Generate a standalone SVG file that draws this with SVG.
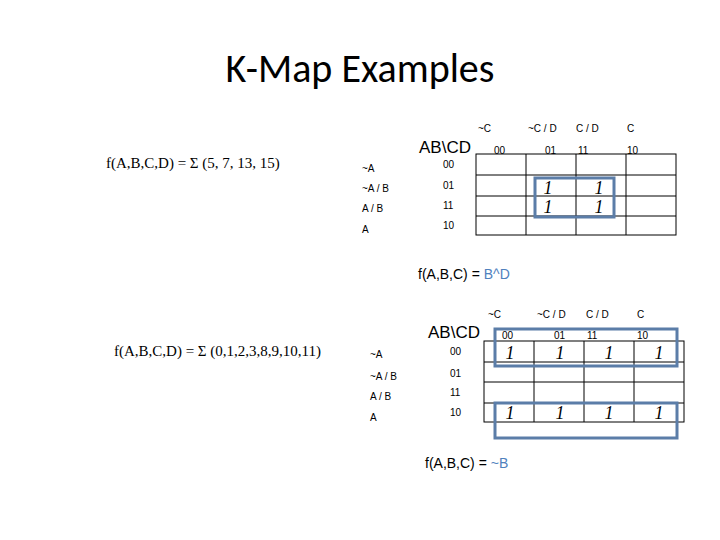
<svg xmlns="http://www.w3.org/2000/svg" width="720" height="540" viewBox="0 0 720 540">
<style>
text{font-family:"Liberation Sans",Arial,sans-serif;fill:#000}
.t{font-size:40px;font-family:Calibri,"Carlito","Liberation Sans",sans-serif}
.f{font-size:15px;font-family:"Liberation Serif",serif}
.s{font-size:10px}
.h{font-size:17px}
.one{font-size:18px;font-family:"Liberation Serif",serif;font-style:italic;text-anchor:middle}
.g{fill:none;stroke:#000;stroke-width:1}
.b{fill:none;stroke:#5b7da8;stroke-width:3}
.r{font-size:14px}
.bl{fill:#4f81bd}
</style>
<text class="t" x="360" y="82" text-anchor="middle">K-Map Examples</text>
<g id="map1">
<text class="f" x="106" y="168">f(A,B,C,D) = Σ (5, 7, 13, 15)</text>
<text class="h" x="419" y="153">AB\CD</text>
<g class="s"><text x="478" y="132">~C</text><text x="528" y="132">~C / D</text><text x="576" y="132">C / D</text><text x="627" y="132">C</text>
<text x="494" y="154">00</text><text x="545" y="154">01</text><text x="578" y="154">11</text><text x="627" y="154">10</text>
<text x="362" y="172">~A</text><text x="362" y="192">~A / B</text><text x="362" y="212">A / B</text><text x="362" y="233">A</text>
<text x="443" y="168">00</text><text x="443" y="189">01</text><text x="443" y="209">11</text><text x="443" y="229">10</text></g>
<rect class="g" x="476" y="154" width="200" height="81"/>
<path class="g" d="M526 154V235M576 154V235M626 154V235M476 175H676M476 196H676M476 216H676"/>
<text class="one" x="548" y="194">1</text><text class="one" x="599" y="194">1</text>
<text class="one" x="548" y="213">1</text><text class="one" x="599" y="213">1</text>
<rect class="b" x="535" y="178" width="79" height="39"/>
<text class="r" x="418" y="279">f(A,B,C) = <tspan class="bl">B^D</tspan></text>
</g>
<g id="map2">
<text class="f" x="114" y="356">f(A,B,C,D) = Σ (0,1,2,3,8,9,10,11)</text>
<text class="h" x="428" y="338">AB\CD</text>
<g class="s"><text x="488" y="318">~C</text><text x="537" y="318">~C / D</text><text x="586" y="318">C / D</text><text x="637" y="318">C</text>
<text x="502" y="339">00</text><text x="554" y="339">01</text><text x="587" y="339">11</text><text x="637" y="339">10</text>
<text x="370" y="358">~A</text><text x="370" y="380">~A / B</text><text x="370" y="400">A / B</text><text x="370" y="421">A</text>
<text x="450" y="355">00</text><text x="450" y="377">01</text><text x="450" y="396">11</text><text x="450" y="416">10</text></g>
<rect class="g" x="484" y="341" width="200" height="81"/>
<path class="g" d="M534 341V422M584 341V422M634 341V422M484 362H684M484 382H684M484 403H684"/>
<text class="one" x="510" y="359">1</text><text class="one" x="560" y="359">1</text><text class="one" x="609" y="359">1</text><text class="one" x="659" y="359">1</text>
<text class="one" x="510" y="419">1</text><text class="one" x="560" y="419">1</text><text class="one" x="609" y="419">1</text><text class="one" x="659" y="419">1</text>
<rect class="b" x="495" y="329" width="182" height="37"/>
<rect class="b" x="495" y="403" width="182" height="35"/>
<text class="r" x="425" y="468">f(A,B,C) = <tspan class="bl">~B</tspan></text>
</g>
</svg>
